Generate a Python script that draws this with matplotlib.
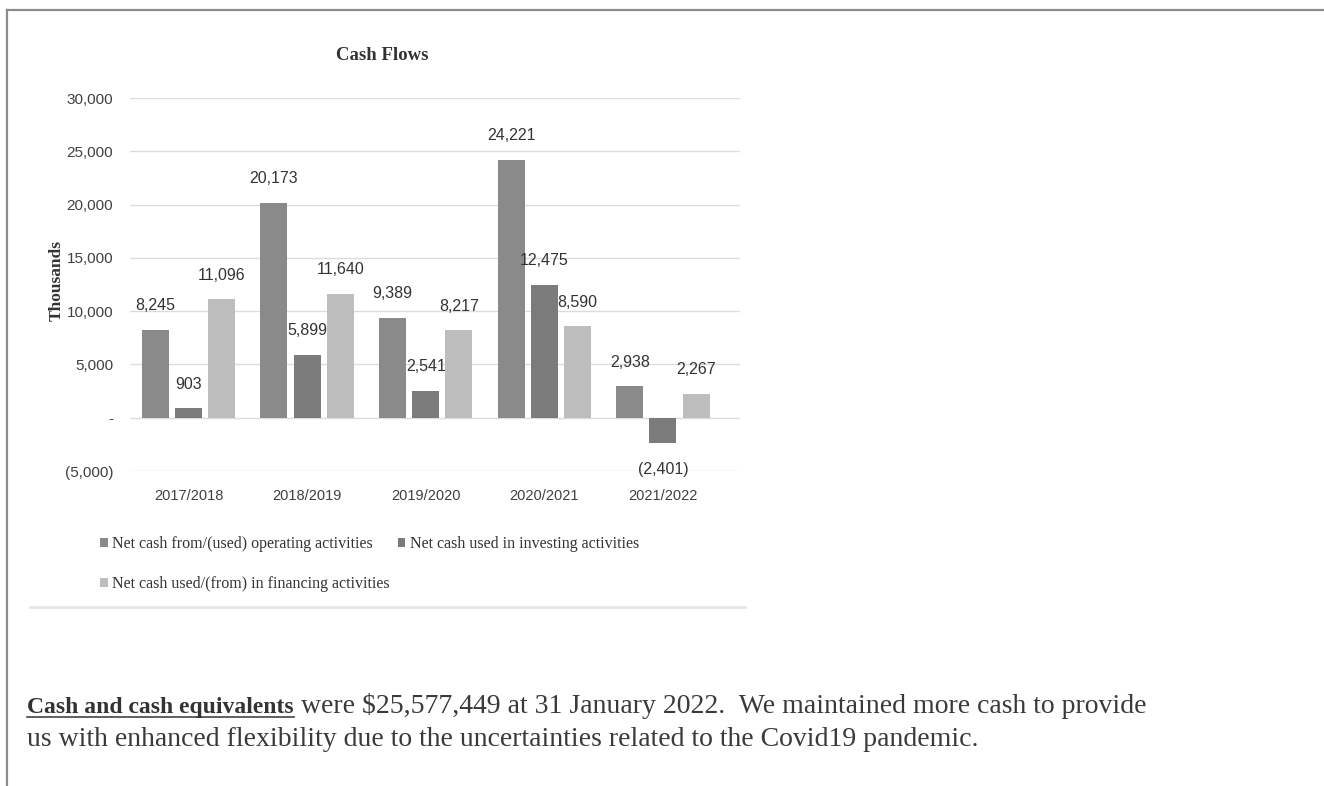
import matplotlib
matplotlib.use("Agg")
import matplotlib.pyplot as plt
from matplotlib.lines import Line2D
import numpy as np

years = ["2017/2018", "2018/2019", "2019/2020", "2020/2021", "2021/2022"]
operating = [8245, 20173, 9389, 24221, 2938]
investing = [903, 5899, 2541, 12475, -2401]
financing = [11096, 11640, 8217, 8590, 2267]
series_names = [
    "Net cash from/(used) operating activities",
    "Net cash used in investing activities",
    "Net cash used/(from) in financing activities",
]
colors = ["#8a8a8a", "#7b7b7b", "#bdbdbd"]

sans = ["Liberation Sans", "DejaVu Sans"]
serif = ["Liberation Serif", "DejaVu Serif"]


def fmt(v):
    if v == 0:
        return "-"
    if v < 0:
        return "({:,.0f})".format(abs(v))
    return "{:,.0f}".format(v)


W, H = 1324, 786
fig = plt.figure(figsize=(W / 100, H / 100), dpi=100)
fig.patch.set_facecolor("white")

# page frame (top and left rules)
fig.add_artist(Line2D([7 / W, 1], [1 - 10 / H, 1 - 10 / H], color="#8c8c8c", lw=1.6))
fig.add_artist(Line2D([7 / W, 7 / W], [0, 1 - 10 / H], color="#8c8c8c", lw=1.6))
# faint bottom edge of chart panel
fig.add_artist(Line2D([30 / W, 745 / W], [1 - 607 / H, 1 - 607 / H], color="#e6e6e6", lw=2))

ax = fig.add_axes([130 / W, 1 - 471 / H, 610 / W, 373 / H])
x = np.arange(len(years))
width = 0.228
offset = 0.28
bars = []
for i, (vals, c) in enumerate(zip([operating, investing, financing], colors)):
    b = ax.bar(x + (i - 1) * offset, vals, width, color=c, zorder=3, label=series_names[i])
    bars.append(b)
    for xi, v in zip(x + (i - 1) * offset, vals):
        dy = 24 if v >= 0 else -26
        ax.annotate(fmt(v), (xi, v), xytext=(0, dy), textcoords="offset pixels",
                    ha="center", va="center", fontsize=11.5, color="#333333",
                    family=sans)

ax.set_ylim(-5000, 30000)
ax.set_xlim(-0.493, 4.65)
ax.set_yticks(np.arange(-5000, 30001, 5000))
ax.set_yticklabels([fmt(v) for v in np.arange(-5000, 30001, 5000)],
                   family=sans, fontsize=11, color="#404040")
ax.set_xticks(x)
ax.set_xticklabels(years, family=sans, fontsize=10.5, color="#404040")
ax.tick_params(length=0, axis="y", pad=12)
ax.tick_params(length=0, axis="x", pad=13)
ax.grid(axis="y", color="#dcdcdc", lw=1, zorder=0)
for s in ax.spines.values():
    s.set_visible(False)

fig.text(57 / W, 1 - 280 / H, "Thousands", rotation=90, ha="center", va="center",
         family=serif, fontsize=12.5, fontweight="bold", color="#333333")

fig.text(382 / W, 1 - 55 / H, "Cash Flows", ha="center", va="center",
         family=serif, fontsize=13.5, fontweight="bold", color="#333333")

leg = ax.legend([bars[0], bars[2], bars[1]], [series_names[0], series_names[2], series_names[1]],
                ncol=2, loc="upper left", bbox_to_anchor=(86 / W, 1 - 522 / H),
                bbox_transform=fig.transFigure, frameon=False,
                handlelength=0.45, handleheight=0.45, handletextpad=0.3,
                columnspacing=0.5, labelspacing=1.5,
                prop={"family": serif, "size": 11.5})
for t in leg.get_texts():
    t.set_color("#333333")

# paragraph below the chart
fig.canvas.draw()
r = fig.canvas.get_renderer()
fs = 20
y1 = 1 - 713 / H
y2 = 1 - 746 / H
head = fig.text(27 / W, y1, "Cash and cash equivalents", family=serif, fontsize=17,
                fontweight="bold", color="#333333", va="baseline")
bb = head.get_window_extent(r)
fig.add_artist(Line2D([bb.x0 / W, bb.x1 / W], [y1 - 4 / H, y1 - 4 / H], color="#444444", lw=1.2))
fig.text(bb.x1 / W, y1, " were $25,577,449 at 31 January 2022.  We maintained more cash to provide",
         family=serif, fontsize=fs, color="#3a3a3a", va="baseline")
fig.text(27 / W, y2, "us with enhanced flexibility due to the uncertainties related to the Covid19 pandemic.",
         family=serif, fontsize=fs, color="#3a3a3a", va="baseline")

fig.savefig("out.png", dpi=100, facecolor="white")
